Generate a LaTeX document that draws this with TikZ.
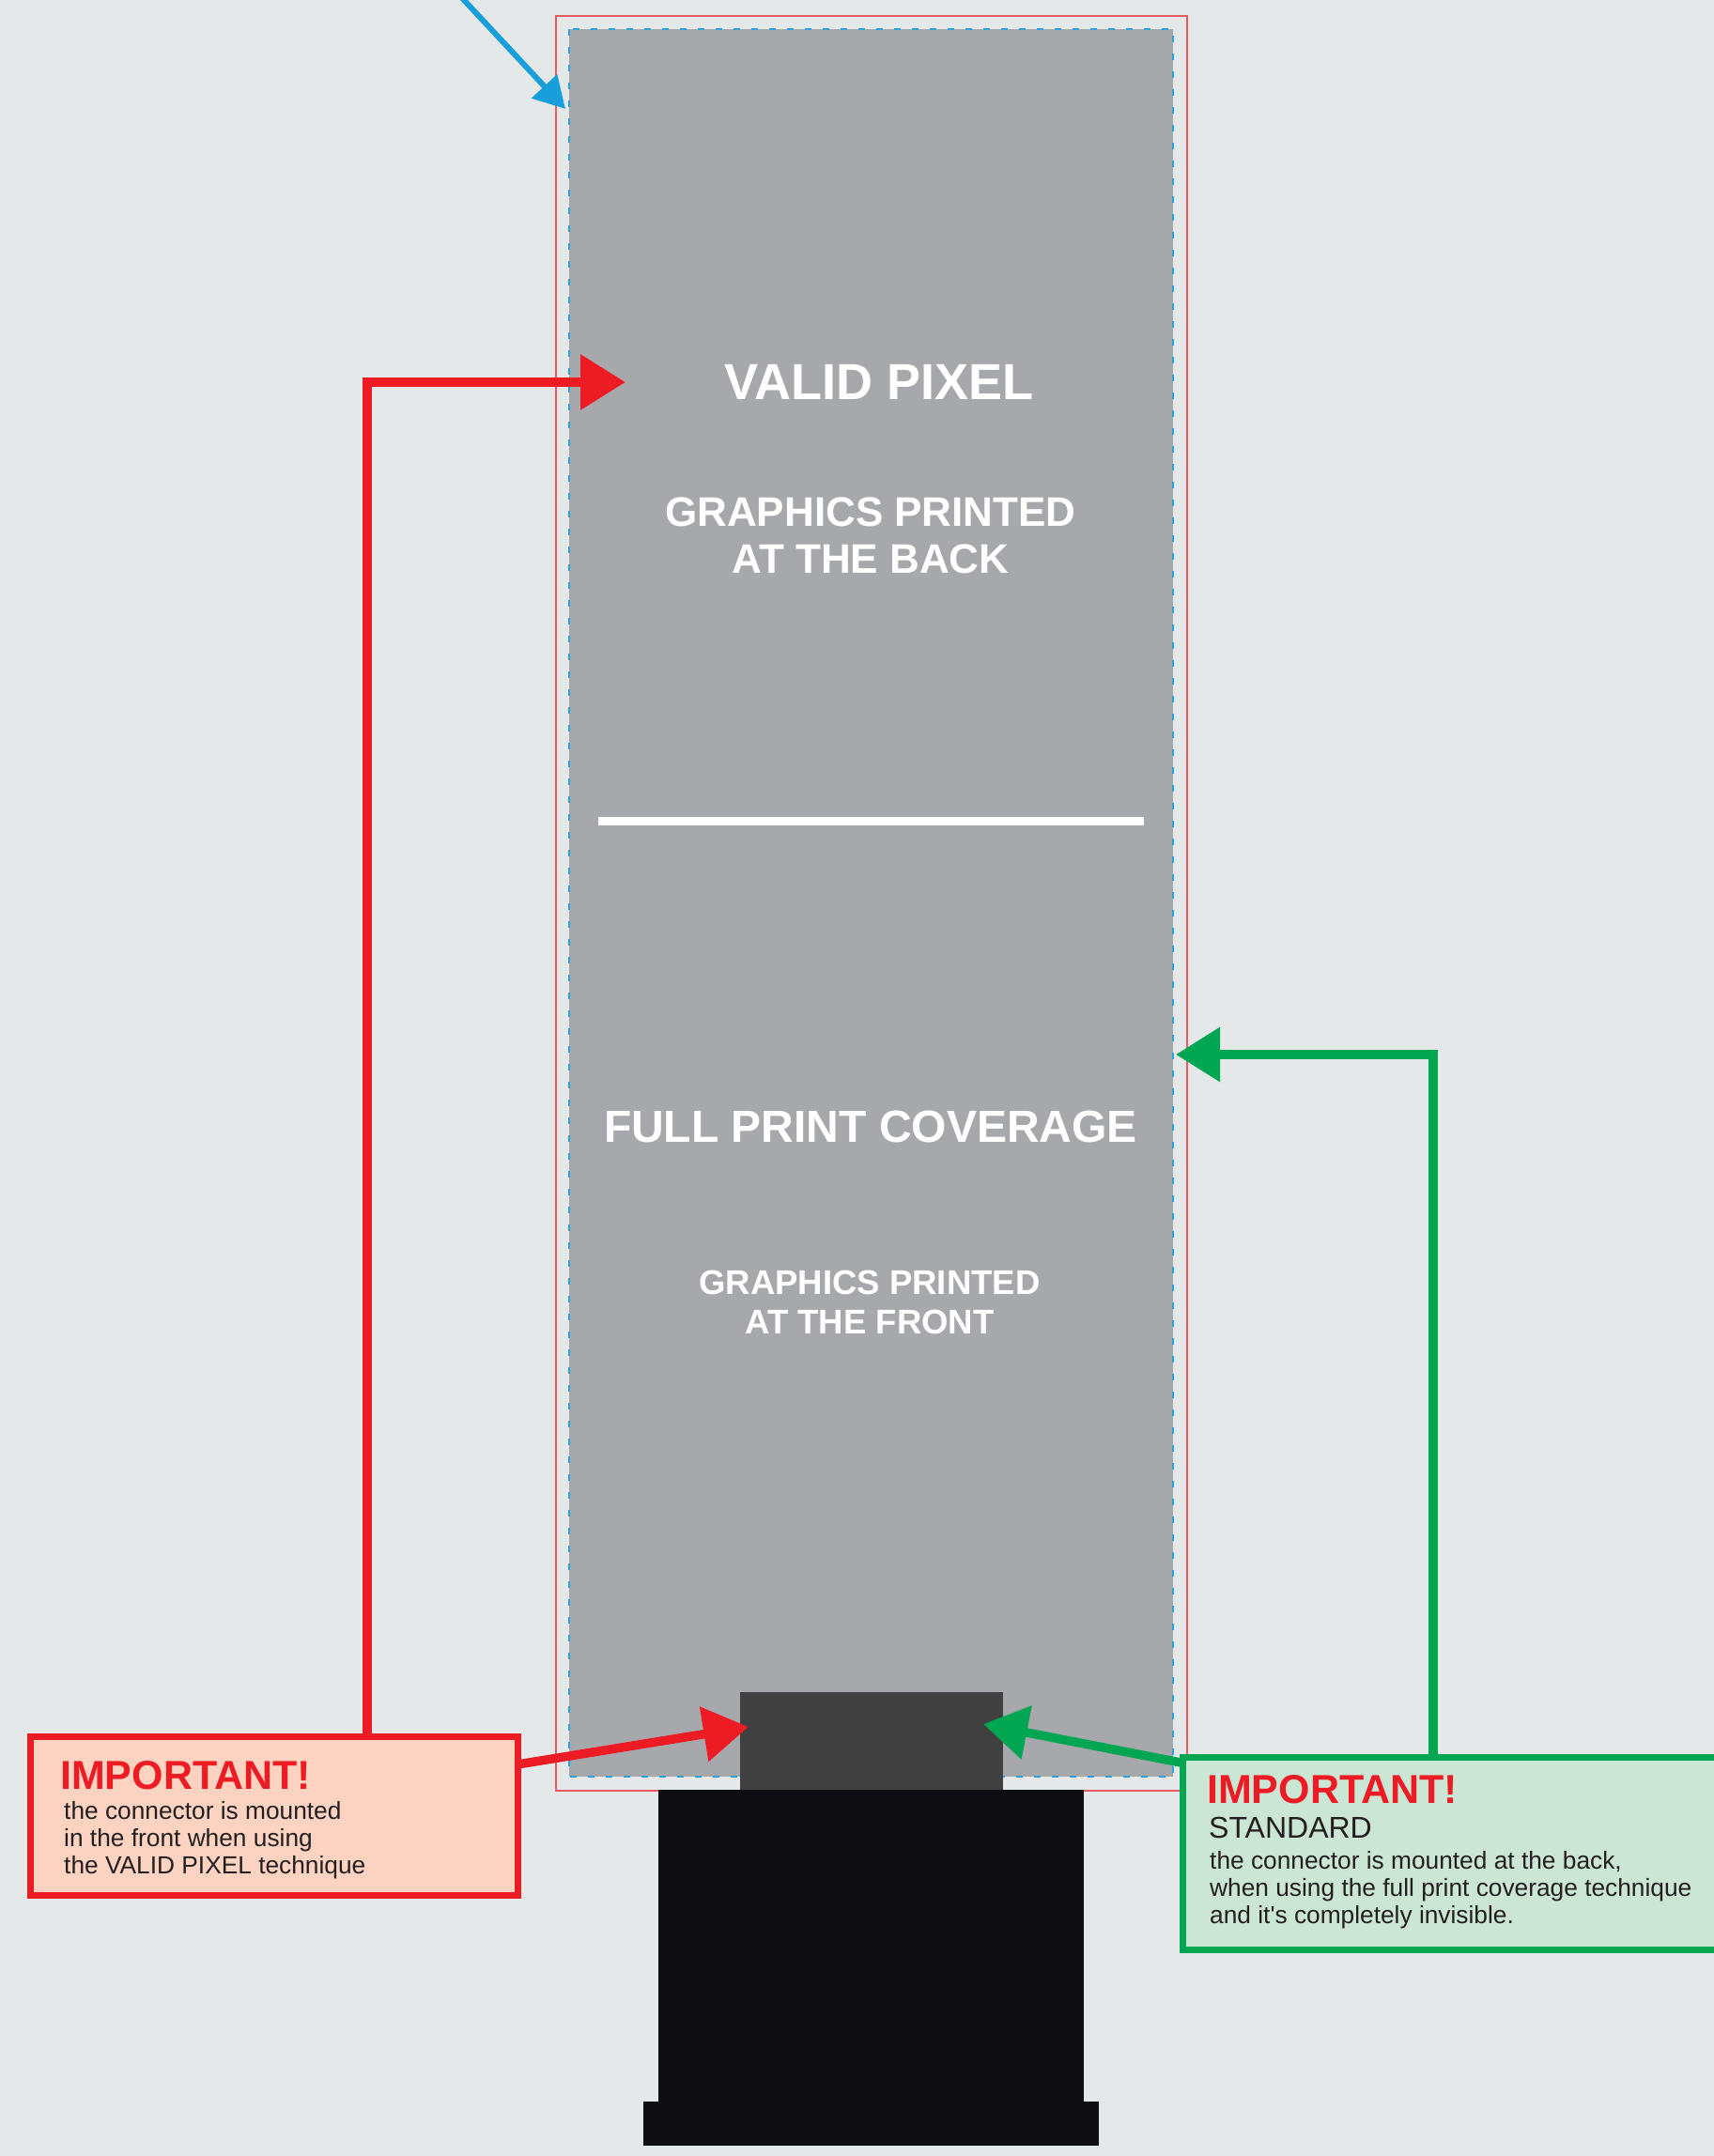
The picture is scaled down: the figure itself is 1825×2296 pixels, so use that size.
\documentclass[tikz,border=0pt]{standalone}
\usepackage{fontspec}
\setmainfont{Liberation Sans}
\newfontfamily\rawfont{Liberation Sans}[Ligatures=TeXOff]
\usetikzlibrary{arrows.meta}
\definecolor{bgc}{HTML}{E4E8E9}
\definecolor{panelc}{HTML}{A7A8AB}
\definecolor{trimc}{HTML}{EA5A62}
\definecolor{dashc}{HTML}{2AA0DC}
\definecolor{redc}{HTML}{ED1C24}
\definecolor{greenc}{HTML}{00A651}
\definecolor{bluec}{HTML}{189FDB}
\definecolor{redfill}{HTML}{FCD3C1}
\definecolor{greenfill}{HTML}{CBE6D4}
\definecolor{txtc}{HTML}{231F20}
\definecolor{darkc}{HTML}{404040}
\definecolor{blackc}{HTML}{0E0D12}
\begin{document}
\begin{tikzpicture}[x=1pt,y=-1pt,
  blk/.style={anchor=north west, inner sep=0pt, outer sep=0pt},
  lbl/.style={anchor=base, text=white, inner sep=0pt},
  body/.style={anchor=base west, inner sep=0pt, text=txtc, font=\fontsize{26.3}{29}\selectfont},
  imp/.style={anchor=base west, inner sep=0pt, text=redc, font=\bfseries\fontsize{43}{46}\selectfont},
  conline/.style={line width=9.5pt, line join=miter}]
\useasboundingbox[fill=bgc] (0,0) rectangle (1825,2296);
% trim line and panel
\node[blk, draw=trimc, line width=2pt, minimum width=672pt, minimum height=1890pt] (trim) at (592,17) {};
\node[blk, fill=panelc, minimum width=643pt, minimum height=1861pt] (panel) at (606,31) {};
\draw[dashc, line width=2pt, dash pattern=on 7pt off 12pt] (panel.north west) rectangle (panel.south east);
\draw[white, line width=9pt] (637,874) -- (1218,874);
% panel texts
\node[lbl, font=\bfseries\fontsize{54}{58}\selectfont] (vp) at (936,425) {VALID PIXEL};
\node[lbl, font=\bfseries\fontsize{44}{48}\selectfont] (gb1) at (927,560) {GRAPHICS PRINTED};
\node[lbl, font=\bfseries\fontsize{44}{48}\selectfont] (gb2) at (927,610) {AT THE BACK};
\node[lbl, font=\bfseries\fontsize{48}{52}\selectfont] (fpc) at (927,1216) {FULL PRINT COVERAGE};
\node[lbl, font=\bfseries\fontsize{36.5}{40}\selectfont] (gf1) at (926,1378) {GRAPHICS PRINTED};
\node[lbl, font=\bfseries\fontsize{36.5}{40}\selectfont] (gf2) at (926,1420) {AT THE FRONT};
% connector and stand
\node[blk, fill=darkc, minimum width=280pt, minimum height=105pt] (conn) at (788,1802) {};
\node[blk, fill=blackc, minimum width=453pt, minimum height=334pt] (stand) at (701,1906) {};
\node[blk, fill=blackc, minimum width=485pt, minimum height=47pt] (base) at (685,2238) {};
% blue arrow
\coordinate (bstart) at (480,-15);
\coordinate (btip) at (602,116);
\draw[bluec, line width=6pt, -{Triangle[length=33pt,width=36pt]}] (bstart) -- (btip);
% connector coordinates
\coordinate (r1) at (391,407);
\coordinate (r1tip) at (666,407);
\coordinate (r2s) at (551,1879);
\coordinate (r2tip) at (797,1839);
\coordinate (g1) at (1526,1123);
\coordinate (g1tip) at (1252,1123);
\coordinate (g2s) at (1270,1879.5);
\coordinate (g2tip) at (1047,1836);
\draw[redc, conline, -{Triangle[length=48pt,width=57pt]}] (391,1860) -- (r1) -- (r1tip);
\draw[redc, conline, -{Triangle[length=48pt,width=57pt]}] (r2s) -- (r2tip);
\draw[greenc, conline, -{Triangle[length=47pt,width=56pt]}] (1526,1880) -- (g1) -- (g1tip);
\draw[greenc, conline, -{Triangle[length=47pt,width=56pt]}] (g2s) -- (g2tip);
\node[blk, draw=redc, fill=redfill, line width=7pt, minimum width=519pt, minimum height=169pt] (rbox) at (32.5,1849.5) {};
\node[blk, draw=greenc, fill=greenfill, line width=7pt, minimum width=620pt, minimum height=205pt] (gbox) at (1259.5,1871.5) {};
% red box text
\node[imp] (rimp) at (64,1905) {IMPORTANT!};
\node[body] (rl1) at (68,1937) {the connector is mounted};
\node[body] (rl2) at (68,1966) {in the front when using};
\node[body] (rl3) at (68,1995) {the VALID PIXEL technique};
% green box text
\node[imp] (gimp) at (1285,1920) {IMPORTANT!};
\node[anchor=base west, inner sep=0pt, text=txtc, font=\fontsize{32}{35}\selectfont] (gstd) at (1287,1957) {STANDARD};
\node[body] (gl1) at (1288,1990) {the connector is mounted at the back,};
\node[body] (gl2) at (1288,2019) {when using the full print coverage technique};
\node[body, font=\rawfont\fontsize{26.3}{29}\selectfont] (gl3) at (1288,2048) {and it's completely invisible.};
\end{tikzpicture}
\end{document}
